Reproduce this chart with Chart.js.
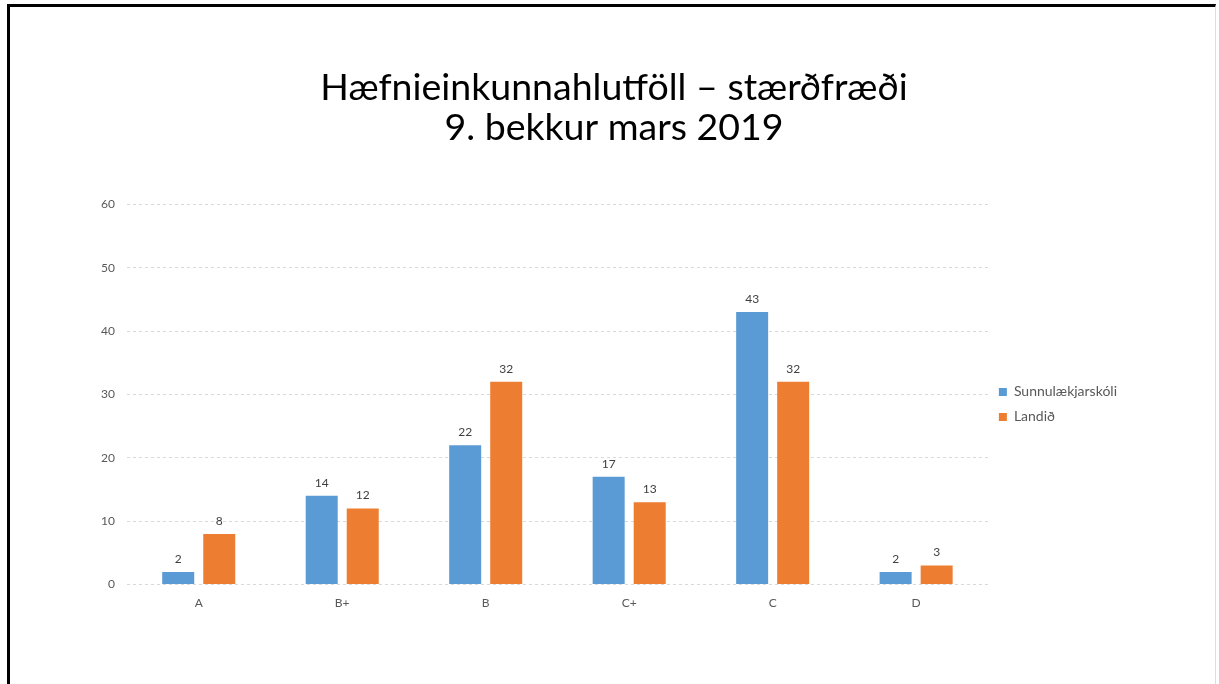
<!DOCTYPE html>
<html>
<head>
<meta charset="utf-8">
<script src="https://cdn.jsdelivr.net/npm/chart.js@4/dist/chart.umd.min.js"></script>
<style>
html,body{margin:0;padding:0;background:#fff;}
#wrap{position:relative;width:1219px;height:684px;overflow:hidden;}
#frame{position:absolute;left:7px;top:4px;width:1209px;height:690px;border-left:3px solid #000;border-top:3px solid #000;border-right:1px solid #ddd;box-sizing:border-box;pointer-events:none;}
canvas{position:absolute;left:0;top:0;}
</style>
</head>
<body>
<div id="wrap">
<canvas id="c" width="1219" height="684"></canvas>
<div id="frame"></div>
</div>
<script>
const categories = ['A', 'B+', 'B', 'C+', 'C', 'D'];
const sunnulaekjarskoli = [2, 14, 22, 17, 43, 2];
const landid = [8, 12, 32, 13, 32, 3];
const seriesNames = ['Sunnulækjarskóli', 'Landið'];
const titleLines = ['Hæfnieinkunnahlutföll – stærðfræði', '9. bekkur mars 2019'];
const yTicks = [0, 10, 20, 30, 40, 50, 60];

const FONT = 'Lato, "Open Sans", sans-serif';

const valueLabels = {
  id: 'valueLabels',
  afterDatasetsDraw(chart) {
    const ctx = chart.ctx;
    ctx.save();
    ctx.font = '12px ' + FONT;
    ctx.fillStyle = '#404040';
    ctx.textAlign = 'center';
    ctx.textBaseline = 'middle';
    chart.data.datasets.forEach((ds, i) => {
      const meta = chart.getDatasetMeta(i);
      meta.data.forEach((bar, j) => {
        ctx.fillText(String(ds.data[j]), bar.x, bar.y - 13);
      });
    });
    ctx.restore();
  }
};

// centre the title over the whole page and nudge the legend down a little
const placeBlocks = {
  id: 'placeBlocks',
  afterLayout(chart) {
    const t = chart.titleBlock;
    if (t) { t.left = 0; t.right = 1228; t.width = 1228; }
    const l = chart.legend;
    if (l) { l.top += 10; l.bottom += 10; }
  }
};

new Chart(document.getElementById('c'), {
  type: 'bar',
  data: {
    labels: categories,
    datasets: [
      { label: seriesNames[0], data: sunnulaekjarskoli, backgroundColor: '#5B9BD5', categoryPercentage: 0.572, barPercentage: 0.78 },
      { label: seriesNames[1], data: landid, backgroundColor: '#ED7D31', categoryPercentage: 0.572, barPercentage: 0.78 }
    ]
  },
  options: {
    responsive: false,
    animation: false,
    devicePixelRatio: 1,
    layout: { padding: { left: 20, right: 92, top: 0, bottom: 63 } },
    plugins: {
      title: {
        display: true,
        text: titleLines,
        color: '#000',
        font: { family: FONT, size: 37.5, weight: 'normal', lineHeight: 1.07 },
        padding: { top: 68, bottom: 56 }
      },
      legend: {
        position: 'right',
        fullSize: false,
        labels: {
          boxWidth: 8, boxHeight: 8, padding: 11,
          color: '#595959',
          font: { family: FONT, size: 14 }
        }
      },
      tooltip: { enabled: false }
    },
    scales: {
      x: {
        grid: { display: false, drawTicks: false },
        border: { display: false },
        ticks: { color: '#595959', font: { family: FONT, size: 12 }, padding: 11 }
      },
      y: {
        min: 0, max: 60,
        afterBuildTicks(scale) { scale.ticks = yTicks.map(v => ({ value: v })); },
        afterFit(scale) { scale.width = 107; },
        grid: { color: '#D9D9D9', drawTicks: false, lineWidth: 1 },
        border: { display: false, dash: [3, 3] },
        ticks: { color: '#595959', font: { family: FONT, size: 12 }, padding: 12 }
      }
    }
  },
  plugins: [valueLabels, placeBlocks]
});
</script>
</body>
</html>
